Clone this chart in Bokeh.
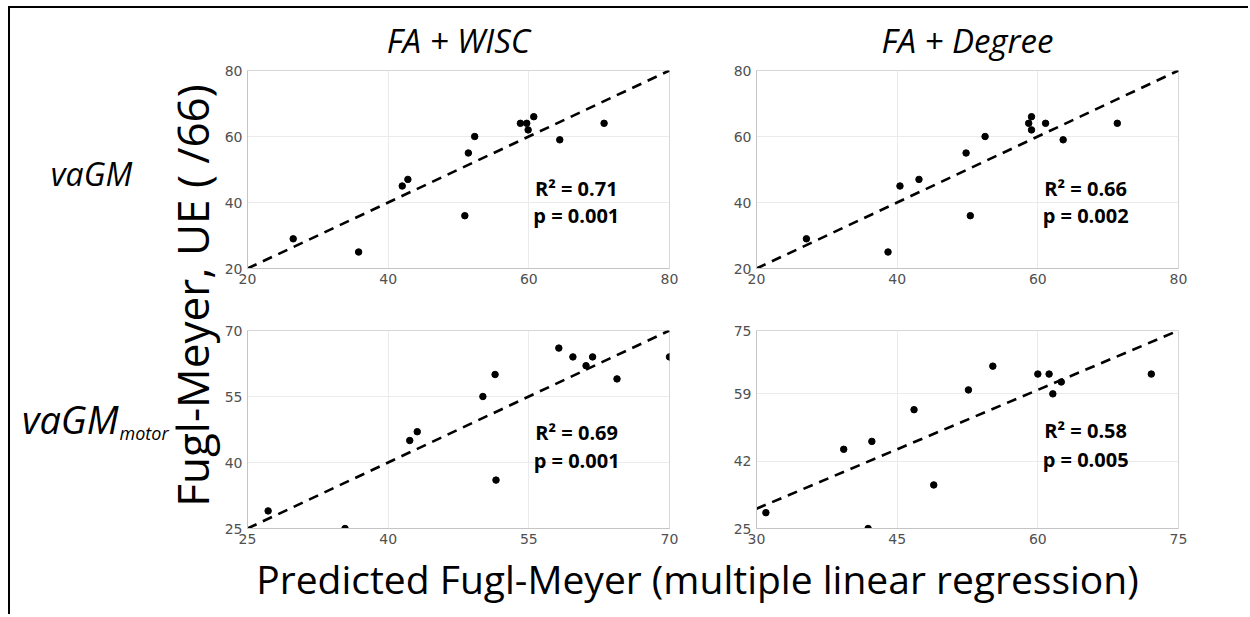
from bokeh.plotting import figure
from bokeh.layouts import column, row
from bokeh.models import Range1d, FixedTicker, Title
from bokeh.core.properties import value
from bokeh.embed import file_html
from bokeh.resources import INLINE
import math

# ---------------- data ----------------
col_titles = ["FA + WISC", "FA + Degree"]
row_label_main = ["vaGM", "vaGM"]
row_label_sub = ["", "motor"]
y_label = "Fugl-Meyer, UE ( /66)"
x_label = "Predicted Fugl-Meyer (multiple linear regression)"

# FA + WISC, vaGM
x_wisc_vagm = [26.5, 35.8, 42.0, 42.8, 50.9, 51.4, 52.3, 58.8, 59.7, 59.9, 60.7, 64.4, 70.7]
y_wisc_vagm = [29, 25, 45, 47, 36, 55, 60, 64, 64, 62, 66, 59, 64]
# FA + Degree, vaGM
x_deg_vagm = [27.1, 38.7, 40.4, 43.1, 49.8, 50.4, 52.5, 58.7, 59.1, 59.1, 61.1, 63.6, 71.3]
y_deg_vagm = [29, 25, 45, 47, 55, 36, 60, 64, 66, 62, 64, 59, 64]
# FA + WISC, vaGM motor
x_wisc_motor = [27.2, 35.4, 42.3, 43.1, 50.1, 51.4, 51.5, 58.2, 59.7, 61.1, 61.8, 64.4, 70.0]
y_wisc_motor = [29, 25, 45, 47, 55, 60, 36, 66, 64, 62, 64, 59, 64]
# FA + Degree, vaGM motor
x_deg_motor = [31.0, 39.3, 41.9, 42.3, 46.8, 48.9, 52.6, 55.2, 60.0, 61.2, 61.6, 62.5, 72.1]
y_deg_motor = [29, 45, 25, 47, 55, 36, 60, 66, 64, 64, 59, 62, 64]

stats_r2 = ["R\u00b2 = 0.71", "R\u00b2 = 0.66", "R\u00b2 = 0.69", "R\u00b2 = 0.58"]
stats_p = ["p = 0.001", "p = 0.002", "p = 0.001", "p = 0.005"]
stats_x = [66.75, 66.8, 60.1, 65.1]
stats_y_r2 = [44.2, 44.2, 46.8, 49.7]
stats_y_p = [36.1, 36.1, 40.4, 42.5]

x_limits = [(20, 80), (20, 80), (25, 70), (30, 75)]
y_limits = [(20, 80), (20, 80), (25, 70), (25, 75)]
x_ticks = [[20, 40, 60, 80], [20, 40, 60, 80], [25, 40, 55, 70], [30, 45, 60, 75]]
y_ticks = [[20, 40, 60, 80], [20, 40, 60, 80], [25, 40, 55, 70], [25, 42, 59, 75]]

xs_all = [x_wisc_vagm, x_deg_vagm, x_wisc_motor, x_deg_motor]
ys_all = [y_wisc_vagm, y_deg_vagm, y_wisc_motor, y_deg_motor]

LABEL_FONT = "Open Sans"
TICK_FONT = "DejaVu Sans"


def panel(i, bl, br, bt, bb, title=None):
    p = figure(frame_width=422, frame_height=198,
               x_range=Range1d(*x_limits[i]), y_range=Range1d(*y_limits[i]),
               output_backend="svg", toolbar_location=None,
               min_border_left=bl, min_border_right=br,
               min_border_top=bt, min_border_bottom=bb)
    if title is not None:
        p.title = Title(text=title, align="center", text_font=LABEL_FONT,
                        text_font_size="33px", text_font_style="italic",
                        text_color="black", standoff=15)
    p.outline_line_color = "#d6d6d6"
    p.background_fill_color = "white"
    p.border_fill_color = "white"
    for ax in (p.xaxis, p.yaxis):
        ax.axis_line_color = "#c4c4c4"
        ax.major_tick_line_color = None
        ax.minor_tick_line_color = None
        ax.major_tick_out = 0
        ax.major_tick_in = 0
        ax.minor_tick_out = 0
        ax.minor_tick_in = 0
        ax.major_label_text_font = TICK_FONT
        ax.major_label_text_font_size = "14px"
        ax.major_label_text_color = "#505050"
        ax.major_label_standoff = 5
    p.xaxis.ticker = FixedTicker(ticks=x_ticks[i])
    p.yaxis.ticker = FixedTicker(ticks=y_ticks[i])
    p.grid.grid_line_color = "#ebebeb"
    p.grid.grid_line_width = 1

    lo, hi = x_limits[i]
    p.line(x=[lo, hi], y=[lo, hi], line_color="black", line_width=2.6,
           line_dash="10 7")
    p.scatter(x=xs_all[i], y=ys_all[i], size=6.5, color="black")
    p.text(x=[stats_x[i]], y=[stats_y_r2[i]], text=[stats_r2[i]],
           text_font=value(LABEL_FONT), text_font_style="bold",
           text_font_size="20px", text_align="center", text_baseline="middle",
           text_color="black")
    p.text(x=[stats_x[i]], y=[stats_y_p[i]], text=[stats_p[i]],
           text_font=value(LABEL_FONT), text_font_style="bold",
           text_font_size="20px", text_align="center", text_baseline="middle",
           text_color="black")
    return p


p1 = panel(0, 26, 45, 62, 32, col_titles[0])
p2 = panel(1, 42, 20, 62, 32, col_titles[1])
p3 = panel(2, 26, 45, 30, 20)
p4 = panel(3, 42, 20, 30, 20)

# left strip: row labels and common y label (page x = 10 + x, page y = 8 + y)
left = figure(frame_width=211, frame_height=540, x_range=Range1d(0, 211),
              y_range=Range1d(540, 0), x_axis_type=None, y_axis_type=None,
              output_backend="svg", toolbar_location=None,
              min_border_left=0, min_border_right=0, min_border_top=0,
              min_border_bottom=0)
left.outline_line_color = None
left.grid.visible = False
left.text(x=[81], y=[165], text=[row_label_main[0]], text_font=value(LABEL_FONT),
          text_font_style="italic", text_font_size="32px", text_align="center",
          text_baseline="middle", text_color="black")
left.text(x=[108], y=[410], text=[row_label_main[1]], text_font=value(LABEL_FONT),
          text_font_style="italic", text_font_size="38px", text_align="right",
          text_baseline="middle", text_color="black")
left.text(x=[109], y=[424], text=[row_label_sub[1]], text_font=value(LABEL_FONT),
          text_font_style="italic", text_font_size="18px", text_align="left",
          text_baseline="middle", text_color="black")
left.text(x=[181], y=[287], text=[y_label], text_font=value(LABEL_FONT),
          text_font_size="44px", text_align="center", text_baseline="middle",
          text_line_height=1.0, angle=math.pi / 2, text_color="black")

# bottom strip: common x label (page y = 548 + y)
bottom = figure(frame_width=1238, frame_height=66, x_range=Range1d(0, 1238),
                y_range=Range1d(66, 0), x_axis_type=None, y_axis_type=None,
                output_backend="svg", toolbar_location=None,
                min_border_left=0, min_border_right=0, min_border_top=0,
                min_border_bottom=0)
bottom.outline_line_color = None
bottom.grid.visible = False
bottom.text(x=[687], y=[3], text=[x_label], text_font=value(LABEL_FONT),
            text_font_size="39px", text_align="center", text_baseline="top",
            text_line_height=1.0, text_color="black")

root = column(row(left, column(row(p1, p2), row(p3, p4))), bottom,
              styles={"border-top": "2px solid black",
                      "border-left": "2px solid black",
                      "margin-top": "6px", "margin-left": "8px"})

open("out.html", "w").write(file_html(root, INLINE))
